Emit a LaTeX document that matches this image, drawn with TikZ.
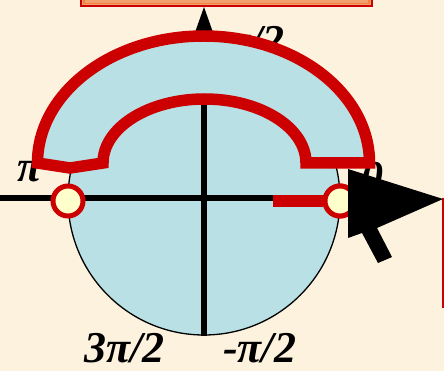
\documentclass[tikz,border=0pt]{standalone}
\usepackage{fontspec}
\setmainfont{Liberation Serif}
\definecolor{bgc}{RGB}{253,242,222}
\definecolor{bluef}{RGB}{185,224,228}
\definecolor{redc}{RGB}{204,0,0}
\definecolor{creamc}{RGB}{255,255,204}
\definecolor{salmonc}{RGB}{242,160,110}
\definecolor{orangec}{RGB}{245,130,60}
\tikzset{
  lbl/.style={inner sep=0pt, font=\fontsize{44}{46}\selectfont\bfseries\itshape},
  redband/.style={draw=redc, line width=11.5pt, line join=miter, fill=bluef},
  ringc/.style={circle, draw=redc, line width=5pt, fill=creamc, minimum size=30pt, inner sep=0pt},
  axisline/.style={line width=6pt, black}
}
\begin{document}
\begin{tikzpicture}[x=1pt,y=1pt]
\useasboundingbox (0,0) rectangle (444,-371);
\fill[bgc] (0,0) rectangle (444,-371);
% top box
\fill[salmonc] (80,10) rectangle (373,-7);
\draw[redc, line width=2pt] (81,10) -- (81,-6) -- (372,-6) -- (372,10);
\draw[orangec, line width=1.2pt] (84,10) -- (84,-3.5) -- (369,-3.5) -- (369,10);
% right red line
\draw[redc, line width=2pt] (443,-198) -- (443,-308);
% circle
\node[circle, draw=black, line width=1.3pt, fill=bluef, minimum size=272pt, inner sep=0pt] (c) at (204,-199) {};
% axes
\coordinate (vtop) at (204,-7);
\coordinate (hleft) at (0,-198);
\coordinate (hright) at (360,-198);
\draw[axisline] (c.south) -- (204,-28);
\fill[black] (vtop) -- (195.5,-31) -- (212.5,-31) -- cycle;
\draw[axisline] (hleft) -- (hright);
% labels behind shape
\node[lbl, anchor=base east] (lhalfpi) at (285,-56) {π/2};
\node[lbl, anchor=base east] (lzero) at (384,-192) {0};
\node[lbl, anchor=base west] (lpi) at (17,-182) {π};
% red horseshoe shape
\draw[redband] (37.5,-163) arc[start angle=180, end angle=0, x radius=166pt, y radius=127pt]
  -- (306,-163) arc[start angle=0, end angle=180, x radius=101.5pt, y radius=64pt]
  -- (70,-168) -- cycle;
% red segment and rings
\coordinate (rs) at (273,-201);
\node[ringc] (r1) at (68,-201) {};
\node[ringc] (r2) at (340,-201) {};
\draw[redc, line width=12pt] (rs) -- (r2.west);
\node[ringc] at (340,-201) {};
% cursor
\fill[black] (443,-199) -- (348,-169) -- (348,-238) -- (362,-233) -- (378,-263) -- (392,-257) -- (377,-228) -- cycle;
% bottom labels
\node[lbl, anchor=base west] (l3pi) at (84,-362) {3π/2};
\node[lbl, anchor=base west] (lmpi) at (223,-362) {-π/2};
\end{tikzpicture}
\end{document}
